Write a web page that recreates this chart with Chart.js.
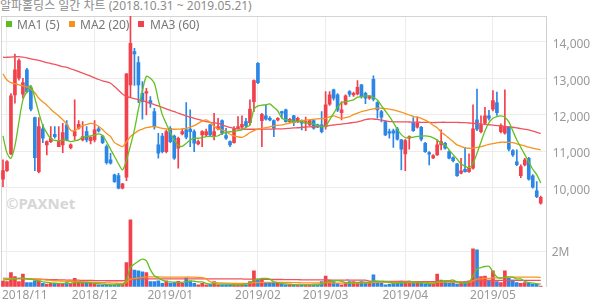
<!DOCTYPE html>
<html>
<head>
<meta charset="utf-8">
<script src="https://cdn.jsdelivr.net/npm/chart.js@4.4.1/dist/chart.umd.min.js"></script>
<style>
  body { margin: 0; background: #fff; width: 594px; height: 304px; position: relative; overflow: hidden;
         font-family: 'Noto Sans', 'Noto Sans CJK KR', sans-serif; }
  #title { position: absolute; left: 0; top: -1px; font-size: 12px; line-height: 14px; color: #8c8c8c; white-space: nowrap; }
  .sq { position: absolute; top: 21px; width: 6px; height: 6px; z-index: 3; }
  .lg { position: absolute; top: 17px; font-size: 12px; line-height: 15px; color: #777; white-space: nowrap; z-index: 3; }
  #mark { position: absolute; left: 6px; top: 193px; font-size: 15px; font-weight: bold; color: #d6d6d6; z-index: 0; }
  canvas { position: absolute; left: 0; z-index: 1; }
  #price { top: 0; }
  #volume { top: 214px; }
</style>
</head>
<body>
<div id="title">알파홀딩스 일간 차트 (2018.10.31 ~ 2019.05.21)</div>
<div class="sq" style="left:6px;background:#5cbd1c"></div><div class="lg" style="left:17px">MA1 (5)</div>
<div class="sq" style="left:69px;background:#f7901e"></div><div class="lg" style="left:80px">MA2 (20)</div>
<div class="sq" style="left:138px;background:#f0434f"></div><div class="lg" style="left:150px">MA3 (60)</div>
<div id="mark">©PAXNet</div>
<canvas id="price" width="594" height="214"></canvas>
<canvas id="volume" width="594" height="90"></canvas>
<script>
// month grid / labels (index of first trading day of each month)
const monthLabels = ['2018/11', '2018/12', '2019/01', '2019/02', '2019/03', '2019/04', '2019/05'];
const monthStart = [1, 23, 42, 64, 81, 101, 123];
const priceTicks = [10000, 11000, 12000, 13000, 14000];

// daily candles 2018.10.31 ~ 2019.05.21
const open = [10224,10462,10920,12541,12999,12560,13228,12724,11918,10435,11607,11168,11260,11460,11122,11168,11717,11095,11414,11625,
  11305,11534,11287,11305,11607,11414,11122,10755,10344,10325,9977,10279,12816,13730,13430,12587,12587,12385,12083,11168,
  11414,10985,11625,11414,11076,11470,11580,11600,11534,11195,11442,11442,11717,11414,11607,11836,11424,11260,11232,11617,
  11653,11808,11781,12358,13412,11836,11964,11900,11836,11854,12083,12130,11808,11964,11808,11836,11763,11717,11836,11717,
  11717,11671,12290,12679,12541,12056,12290,12633,12541,12569,12816,12587,12450,12971,12330,12083,11808,11534,11552,11607,
  11305,10920,11351,11781,11653,11653,11213,10957,10810,10893,11168,11213,10985,10820,10645,10390,10499,10435,10527,11854,
  11534,11763,11964,12147,12330,11534,11488,11653,11012,10700,10325,10618,10801,10316,9904,9565];
const high = [10756,10740,12580,13667,13530,13000,13270,12770,11930,11918,11735,11280,11671,11671,11671,11763,11836,11200,12404,11836,
  11808,11671,11400,11836,11650,11440,11168,10940,10370,10390,10115,13130,14700,13820,13594,12908,12724,12495,12175,11488,
  11488,11580,11671,11440,11380,11600,12330,12130,11580,11300,11560,11600,11735,12038,11900,11860,11625,11280,11671,11946,
  11964,11900,12404,12953,13430,12038,12266,11950,11860,11920,12100,12150,11900,11980,11930,11860,11930,11860,11860,11740,
  12083,12633,12633,12700,12580,12358,12541,12660,12620,12935,12830,12620,12520,13063,12360,12120,11830,11600,11600,11650,
  11320,11320,11420,11920,11940,11680,11240,10985,10900,11305,11580,11240,11010,10840,10660,10800,11100,10920,12266,12700,
  11964,12200,12120,12660,12620,11750,12680,11680,11040,11030,10620,10800,10830,10350,10160,9760];
const low = [10023,10440,10900,12312,12950,12450,12600,12100,10462,10400,11232,10893,11230,11350,11120,10957,11280,11060,11305,11600,
  11280,11250,11195,11250,11520,11200,10636,10640,10140,9960,9960,10188,12495,12800,12330,11873,11992,12200,11600,10801,
  10950,10950,11230,10770,10527,11440,11330,11120,10985,11168,11122,11400,11400,11305,11580,11450,11320,11122,11213,11600,
  11620,11650,11717,12083,12850,11122,11850,11830,11397,11830,11900,11790,11780,11700,11780,11580,11560,11690,11600,11640,
  11500,11600,12250,12400,12083,11854,12270,12500,12500,12540,12450,12300,12420,12380,11900,11800,11420,11350,11100,11300,
  10481,10463,11050,11540,11630,11280,10960,10618,10790,10880,11030,11050,10780,10700,10300,10370,10420,10410,10500,11560,
  11500,11740,11850,12100,11980,11500,11460,11000,10850,10600,10270,10590,10200,9980,9720,9540];
const close = [10462,10710,12514,13228,13485,12880,12633,12147,10818,11671,11351,11260,11351,11397,11260,11507,11305,11168,11534,11735,
  11397,11305,11378,11580,11552,11232,10682,10664,10160,9977,10096,13118,13961,13667,12816,12358,12633,12312,11671,10939,
  10985,11534,11259,10801,11351,11534,11378,11534,11213,11260,11534,11534,11442,11534,11671,11488,11351,11168,11607,11671,
  11735,11690,12156,12935,12880,12010,11873,11854,11625,11900,12038,11808,11873,11781,11900,11763,11808,11836,11625,11653,
  11534,12266,12541,12450,12129,12129,12514,12560,12587,12752,12495,12450,12514,12422,12129,11927,11442,11488,11488,11323,
  11049,11286,11397,11561,11763,11323,10985,10911,10874,11168,11260,11076,10801,10737,10325,10453,10435,10527,11607,11598,
  11717,11964,11900,12385,12056,11698,11671,11049,10893,10627,10572,10755,10224,10005,9748,9730];

// price moving averages as drawn
const ma1 = [11415,10950,10801,11150,11800,12404,12640,12800,12450,12050,11700,11500,11340,11290,11287,11300,11300,11260,11280,11305,
  11380,11400,11415,11440,11470,11420,11250,11050,10850,10650,10481,10750,11150,11580,12150,12650,13050,13000,12862,12400,
  12000,11750,11500,11305,11150,11130,11213,11300,11351,11351,11370,11397,11400,11397,11420,11480,11510,11530,11540,11560,
  11580,11650,11717,12150,12239,12260,12270,12294,12200,12100,11900,11860,11836,11820,11810,11800,11781,11760,11745,11700,
  11671,11690,11854,12037,12200,12330,12358,12380,12404,12480,12490,12514,12514,12470,12400,12250,12100,11950,11780,11600,
  11450,11370,11360,11380,11400,11410,11415,11400,11360,11300,11213,11167,11030,10900,10780,10650,10580,10544,10664,10939,
  11250,11550,11780,11900,11946,11964,11930,11800,11550,11305,11100,10900,10700,10500,10350,10124];
const ma2 = [13118,12950,12880,12850,12820,12790,12760,12700,12600,12450,12350,12260,12150,12050,11964,11860,11740,11570,11560,11640,
  11700,11730,11760,11740,11680,11590,11480,11400,11230,11170,11122,11250,11396,11480,11560,11600,11640,11660,11671,11650,
  11625,11610,11600,11598,11600,11610,11625,11660,11700,11760,11820,11854,11790,11680,11607,11580,11530,11460,11415,11390,
  11378,11430,11510,11560,11600,11625,11645,11665,11690,11705,11717,11745,11770,11790,11815,11836,11850,11865,11875,11885,
  11892,11900,11940,11964,11930,11900,11920,11945,12000,12040,12080,12110,12140,12160,12175,12175,12165,12150,12130,12100,
  12070,12030,11990,11950,11930,11900,11850,11790,11710,11640,11520,11440,11350,11260,11170,11130,11090,11076,11080,11100,
  11122,11150,11186,11205,11225,11241,11241,11238,11232,11200,11168,11140,11104,11080,11055,11030];
const ma3 = [13576,13576,13580,13590,13594,13580,13560,13530,13510,13490,13460,13430,13405,13380,13350,13320,13300,13260,13220,13180,
  13140,13100,13060,13010,12965,12930,12900,12862,12770,12670,12570,12495,12470,12440,12410,12385,12350,12310,12275,12240,
  12200,12160,12120,12083,12040,12000,11965,11930,11900,11870,11840,11810,11790,11770,11760,11720,11680,11650,11620,11610,
  11600,11598,11598,11598,11600,11600,11600,11603,11605,11607,11607,11615,11625,11635,11640,11650,11660,11665,11670,11675,
  11680,11690,11700,11715,11730,11740,11755,11770,11785,11800,11830,11860,11880,11880,11870,11850,11830,11810,11805,11800,
  11800,11800,11798,11795,11792,11790,11788,11785,11781,11785,11790,11790,11790,11788,11785,11782,11780,11770,11760,11752,
  11745,11735,11722,11710,11700,11690,11677,11665,11653,11635,11617,11600,11580,11550,11515,11480];

// volume (thousand shares) and its moving averages
const volume = [320,290,800,570,290,720,230,230,340,340,190,150,190,190,190,190,230,190,480,190,
  190,190,190,190,110,110,110,80,110,150,150,1370,3810,950,900,840,800,290,290,340,
  190,340,190,230,300,190,510,340,190,110,190,110,150,290,110,110,110,110,110,110,
  110,110,290,900,380,380,190,190,190,190,150,110,100,100,100,100,100,100,100,100,
  290,610,380,290,190,100,190,290,290,230,290,190,190,670,230,230,110,150,230,290,
  320,230,320,190,190,190,150,150,150,720,380,320,190,290,150,190,290,340,2150,2100,
  570,610,380,900,290,230,900,480,380,230,190,230,190,150,150,40];
const vma1 = [380,400,420,450,480,500,450,420,380,330,280,250,220,200,190,190,190,190,240,240,
  240,240,230,190,170,150,130,110,110,110,120,360,1100,1290,1450,1570,1470,970,620,500,
  380,290,270,260,250,250,290,310,310,270,270,190,150,170,150,150,150,130,110,110,
  110,150,200,370,410,470,470,430,270,230,180,160,140,120,105,100,100,100,100,100,
  140,240,300,330,350,310,230,210,230,240,260,260,240,330,310,300,290,280,190,200,
  220,240,280,270,250,230,210,180,170,270,310,340,350,380,270,240,230,250,620,1010,
  1090,1150,1160,850,550,480,540,560,540,440,440,300,240,200,180,150];
const vma2 = [460,460,460,460,460,460,460,460,440,420,400,380,360,340,330,320,310,300,300,290,
  280,270,260,250,240,230,220,210,200,195,190,250,430,470,500,530,560,560,560,560,
  550,550,550,550,550,540,550,550,540,530,520,460,280,240,220,210,200,200,190,190,
  190,190,200,230,240,250,250,250,250,250,240,240,240,230,230,220,220,220,210,210,
  210,230,230,200,200,200,200,200,210,210,220,220,220,250,250,250,250,250,250,250,
  250,240,240,240,240,240,240,230,230,250,260,260,260,250,240,240,240,240,340,430,
  450,470,470,500,500,500,530,540,550,550,550,550,550,540,540,530];
const vma3 = [480,470,470,460,460,450,440,440,430,430,420,410,400,400,390,390,380,380,370,370,
  360,360,360,350,350,350,340,340,340,340,340,360,420,430,440,440,440,440,440,440,
  440,440,440,440,440,440,440,440,440,440,440,440,440,440,440,440,440,440,440,440,
  440,430,430,430,430,420,420,420,410,410,410,400,400,400,400,390,390,390,390,390,
  390,390,380,380,380,380,380,380,370,370,370,370,310,300,300,300,300,300,300,300,
  300,295,295,290,290,290,290,290,285,285,285,285,285,285,280,280,280,280,310,350,
  355,355,360,360,360,360,360,360,360,360,360,360,360,360,360,360];

const RED = '#f2404c', BLUE = '#2b86e6';
const GREEN = '#62c11e', ORANGE = '#f7931e', PINK = '#f0535f';
const candleColor = open.map((o, i) => close[i] >= o ? RED : BLUE);
const pts = arr => arr.map((v, i) => ({ x: i, y: v }));

Chart.defaults.font.family = "'Noto Sans', 'Noto Sans CJK KR', sans-serif";
Chart.defaults.font.size = 12;
Chart.defaults.color = '#999';

// left / top frame lines of the plot
const frame = {
  id: 'frame',
  beforeDatasetsDraw(chart, args, opts) {
    const { ctx, chartArea: a } = chart;
    ctx.save();
    ctx.strokeStyle = '#d4d4d4';
    ctx.lineWidth = 1;
    ctx.beginPath();
    ctx.moveTo(a.left + 0.5, a.top);
    ctx.lineTo(a.left + 0.5, a.bottom);
    if (opts.top) {
      ctx.moveTo(a.left, a.top + 0.5);
      ctx.lineTo(a.right, a.top + 0.5);
    }
    ctx.stroke();
    ctx.restore();
  }
};

// month labels under the volume panel, kept inside the canvas on the left
const monthText = {
  id: 'monthText',
  afterDraw(chart) {
    const { ctx, chartArea, scales: { x } } = chart;
    ctx.save();
    ctx.font = "12px 'Noto Sans'";
    ctx.fillStyle = '#999';
    ctx.textBaseline = 'middle';
    monthStart.forEach((v, k) => {
      const w = ctx.measureText(monthLabels[k]).width;
      const px = Math.max(2, x.getPixelForValue(v) - w / 2);
      ctx.fillText(monthLabels[k], px, chartArea.bottom + 8.5);
    });
    ctx.restore();
  }
};

const xAxis = (h, border) => ({
  type: 'linear', min: -0.5, max: 136.5, offset: false,
  afterBuildTicks: s => { s.ticks = monthStart.map(v => ({ value: v })); },
  afterFit: s => { s.height = h; s.paddingLeft = 0; s.paddingRight = 0; },
  ticks: { display: false },
  grid: { color: '#ececec', drawTicks: false, offset: false },
  border: border
});

const yFit = s => { s.width = 47.3; s.paddingTop = 0; s.paddingBottom = 0; };

const lineDs = (arr, color) => ({
  type: 'line', data: pts(arr), borderColor: color, borderWidth: 1.3,
  pointRadius: 0, tension: 0.3, order: 0
});

new Chart(document.getElementById('price'), {
  type: 'bar',
  data: {
    datasets: [
      lineDs(ma1, GREEN),
      lineDs(ma2, ORANGE),
      lineDs(ma3, PINK),
      { data: open.map((o, i) => ({ x: i, y: [low[i], high[i]] })), backgroundColor: candleColor,
        barThickness: 1, grouped: false, order: 2 },
      { data: open.map((o, i) => ({ x: i, y: [o, close[i]] })), backgroundColor: candleColor,
        barThickness: 3, minBarLength: 1, grouped: false, order: 1 }
    ]
  },
  options: {
    responsive: false, animation: false,
    layout: { padding: { top: 16, left: 1, right: 0, bottom: 0 } },
    plugins: { legend: { display: false }, tooltip: { enabled: false }, frame: { top: true } },
    scales: {
      x: xAxis(0, { display: true, color: '#333' }),
      y: {
        position: 'right', min: 9270, max: 14710,
        afterBuildTicks: s => { s.ticks = priceTicks.map(v => ({ value: v })); },
        afterFit: yFit,
        ticks: { color: '#999', padding: 6, labelOffset: 3, callback: v => v.toLocaleString('en-US') },
        grid: { color: '#ececec', drawTicks: false },
        border: { display: true, color: '#cfcfcf' }
      }
    }
  },
  plugins: [frame]
});

new Chart(document.getElementById('volume'), {
  type: 'bar',
  data: {
    datasets: [
      lineDs(vma1, GREEN),
      lineDs(vma2, ORANGE),
      lineDs(vma3, PINK),
      { data: pts(volume), backgroundColor: candleColor, barThickness: 3, grouped: false, order: 1 }
    ]
  },
  options: {
    responsive: false, animation: false,
    layout: { padding: { top: 0, left: 1, right: 0, bottom: 0 } },
    plugins: { legend: { display: false }, tooltip: { enabled: false }, frame: { top: false } },
    scales: {
      x: xAxis(17.3, { display: false }),
      y: {
        position: 'right', min: 0, max: 4140,
        afterBuildTicks: s => { s.ticks = [{ value: 2000 }]; },
        afterFit: yFit,
        ticks: { color: '#999', padding: 5, labelOffset: 1, callback: v => (v / 1000) + 'M' },
        grid: { color: '#ececec', drawTicks: false },
        border: { display: true, color: '#cfcfcf' }
      }
    }
  },
  plugins: [frame, monthText]
});
</script>
</body>
</html>
